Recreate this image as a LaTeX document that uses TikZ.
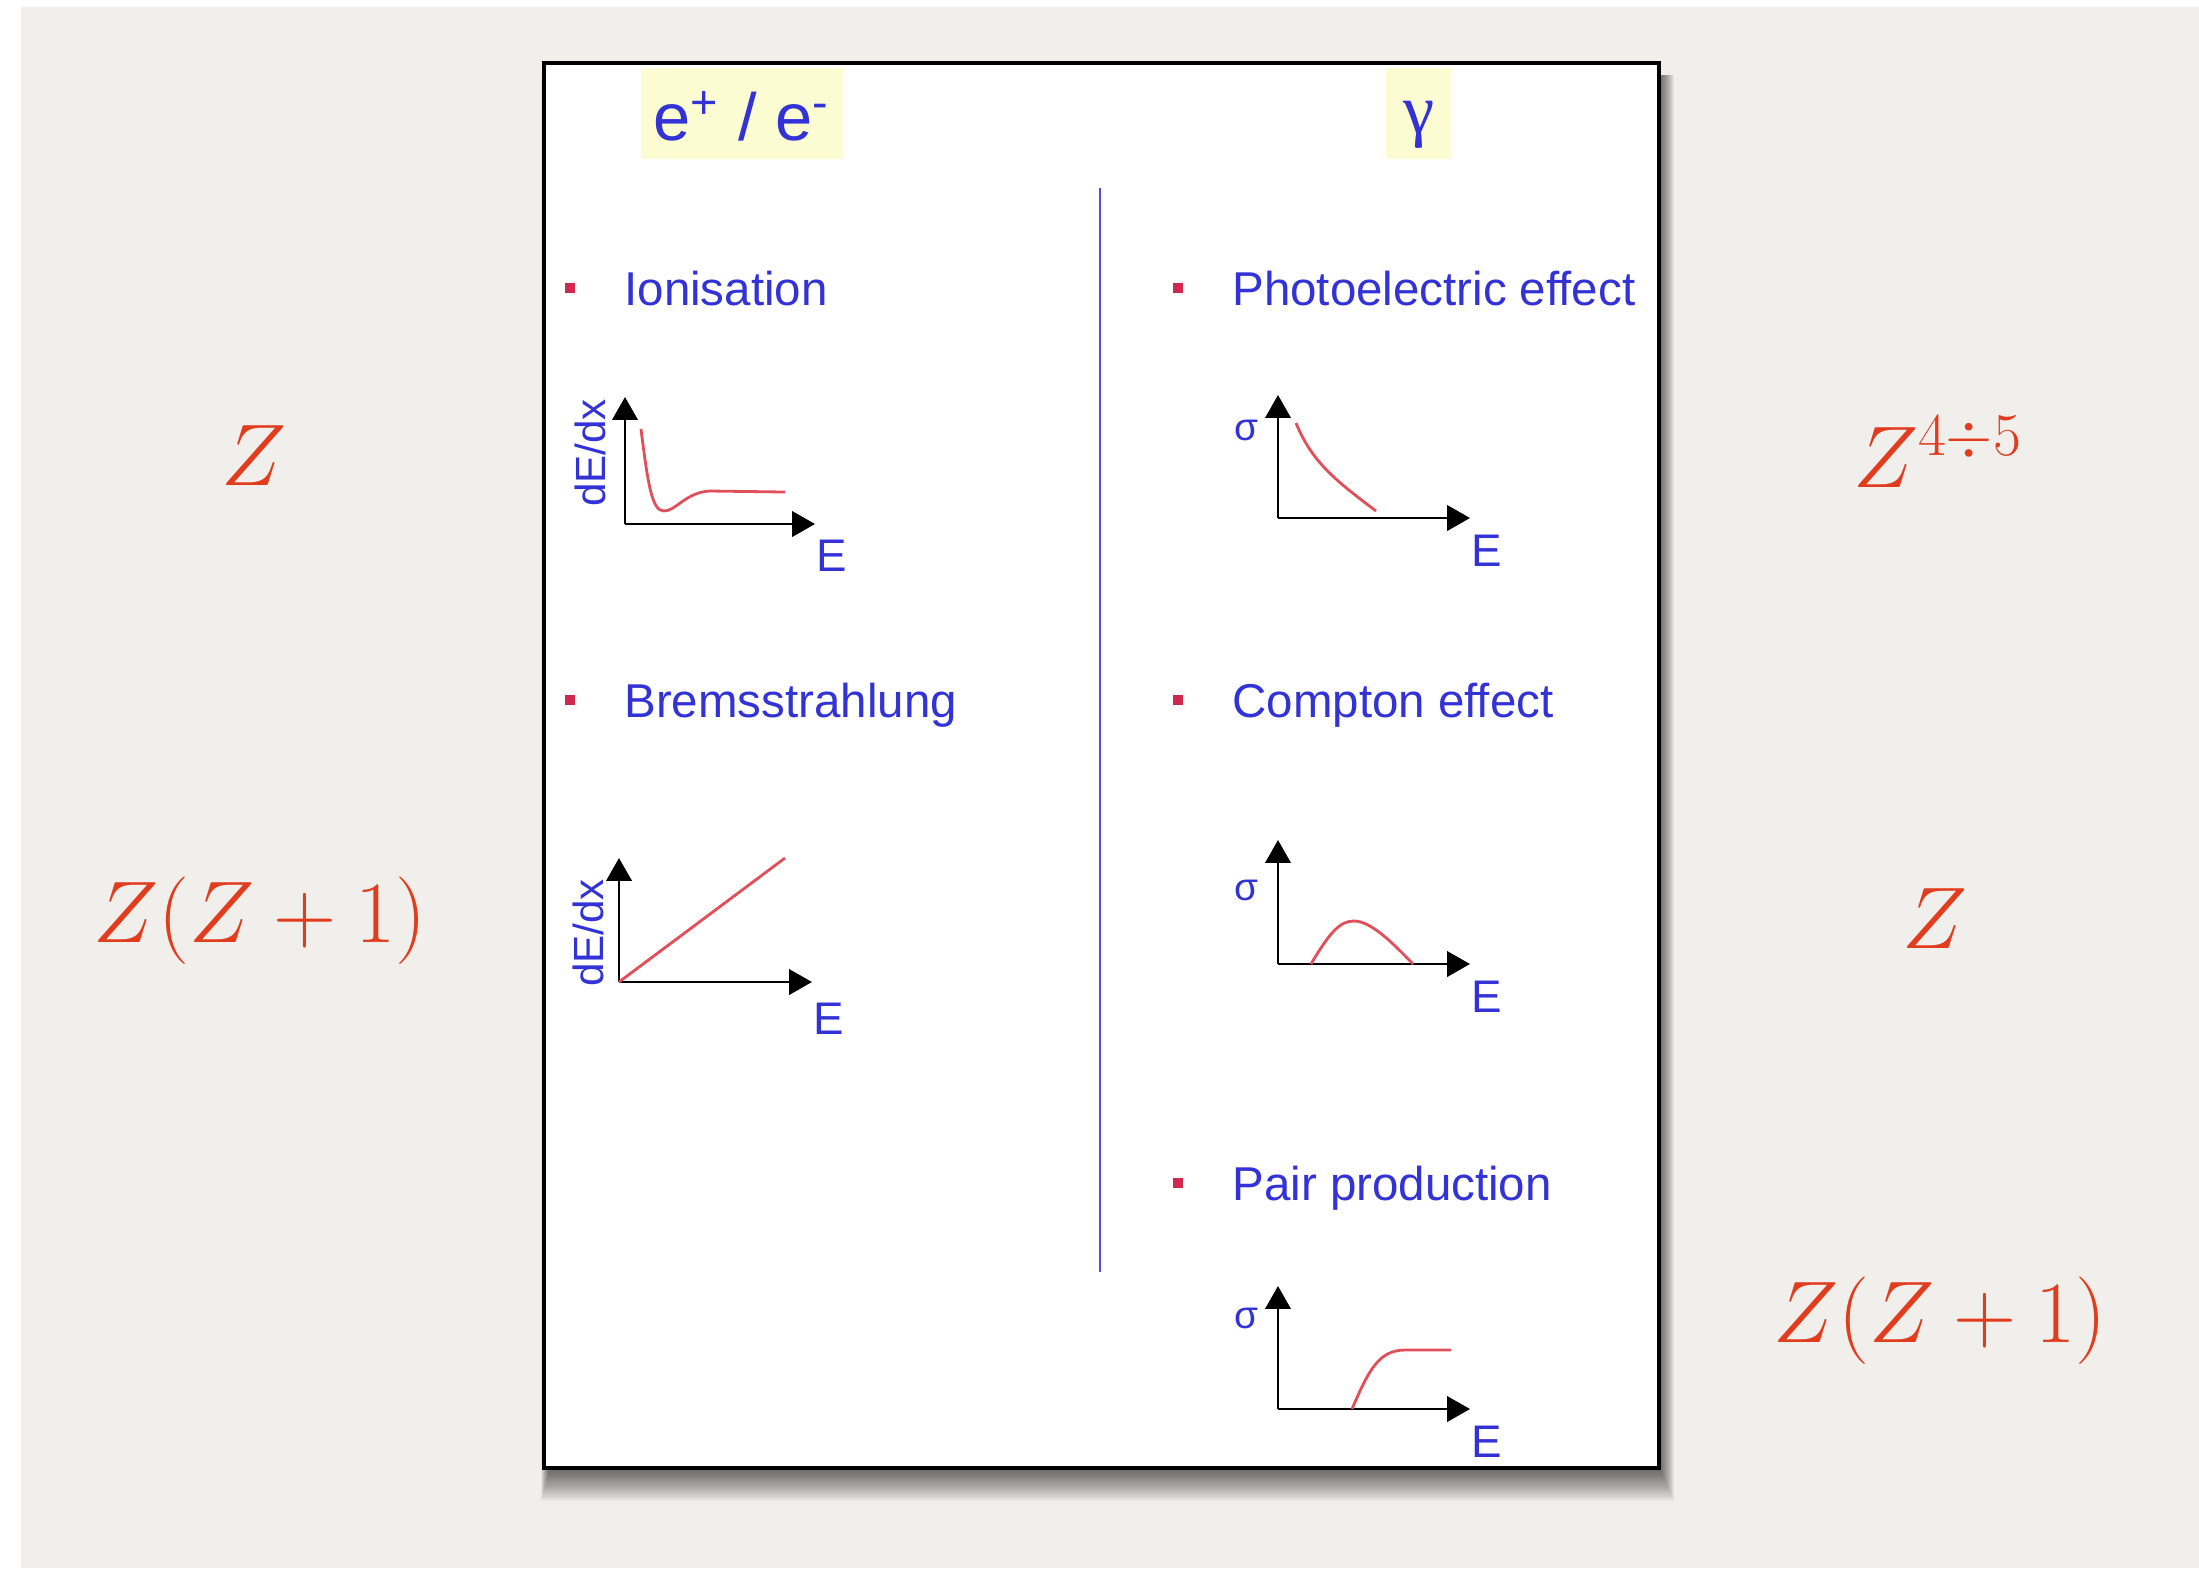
\documentclass[tikz,border=0pt]{standalone}
\usepackage{fontspec}
\newfontfamily\arialfont{Liberation Sans}
\newfontfamily\timesfont{Liberation Serif}
\usetikzlibrary{arrows.meta,positioning}
\definecolor{slidegrey}{RGB}{240,239,235}
\definecolor{headyellow}{RGB}{252,252,210}
\definecolor{textblue}{RGB}{50,50,215}
\definecolor{bulletred}{RGB}{210,40,80}
\definecolor{curvered}{RGB}{225,80,90}
\definecolor{zred}{RGB}{226,60,30}
\definecolor{divblue}{RGB}{80,80,220}
\tikzset{
  procname/.style={
    font=\arialfont\fontsize{13.5}{16}\selectfont, text=textblue,
    inner sep=0pt, text height=9.7pt, text depth=0pt
  },
  procbullet/.style={rectangle, fill=bulletred, minimum size=0.1cm, inner sep=0pt},
  axisarrow/.style={-{Triangle[width=7.2pt,length=6.5pt]}, line width=0.75pt, draw=black},
  ratecurve/.style={draw=curvered, line width=0.8pt},
  axislabel/.style={font=\arialfont\fontsize{13}{15}\selectfont, text=textblue, inner sep=0pt},
  ylabel/.style={axislabel, font=\arialfont\fontsize{12}{14}\selectfont},
  siglabel/.style={axislabel, font=\arialfont\fontsize{11}{13}\selectfont},
  headlabel/.style={font=\arialfont\fontsize{19}{22}\selectfont, text=textblue, inner sep=0pt},
  zlabel/.style={font=\fontsize{24}{28}\selectfont, text=zred, inner sep=0pt},
  divline/.style={draw=divblue, line width=0.6pt},
}

\begin{document}
\begin{tikzpicture}[x=0.01cm, y=-0.01cm, node distance=0.48cm]
  \useasboundingbox (0,0) rectangle (2199,1568);
  % slide background
  \fill[white] (0,0) rectangle (2199,1568);
  \fill[slidegrey] (21,7) rectangle (2199,1568);
  % soft shadow and frame
  \foreach \k in {1,...,30}
    \fill[black, opacity=0.022] (550-0.3*\k,75) rectangle (1659+0.5*\k,1468+1.1*\k);
  \draw[fill=white, line width=0.9pt] (544,63) rectangle (1659,1468);
  % column headers
  \fill[headyellow] (641,68) rectangle (843,159);
  \fill[headyellow] (1386,68) rectangle (1451,159);
  \node (hel) [headlabel] at (742,116) {e\textsuperscript{+} / e\textsuperscript{-}};
  \node (hgam) [headlabel, font=\timesfont\fontsize{20}{24}\selectfont] at (1419,125) {γ};
  % divider
  \coordinate (dtop) at (1100,188);
  \coordinate (dbot) at (1100,1272);
  \draw[divline] (dtop) -- (dbot);

  % e+/e- processes
  \node (bion) [procbullet] at (570,288) {};
  \node (tion) [procname, right=of bion] {Ionisation};
  \node (bbrem) [procbullet] at (570,700) {};
  \node (tbrem) [procname, right=of bbrem] {Bremsstrahlung};
  % gamma processes
  \node (bphot) [procbullet] at (1178,288) {};
  \node (tphot) [procname, right=of bphot] {Photoelectric effect};
  \node (bcomp) [procbullet] at (1178,700) {};
  \node (tcomp) [procname, right=of bcomp] {Compton effect};
  \node (bpair) [procbullet] at (1178,1183) {};
  \node (tpair) [procname, right=of bpair] {Pair production};

  % ionisation plot
  \coordinate (oion) at (625,524);
  \coordinate (yion) at (625,397);
  \coordinate (xion) at (815,524);
  \draw[axisarrow] (oion) -- (yion);
  \draw[axisarrow] (oion) -- (xion);
  \node (lyion) [ylabel, rotate=90] at (590,453) {dE/dx};
  \node (lxion) [axislabel] at (832,556) {E};
  \draw[ratecurve] (641,429) .. controls (648,485) and (652,511) .. (664,511)
    .. controls (676,511) and (686,492) .. (710,491) -- (785,492);

  % bremsstrahlung plot
  \coordinate (obrem) at (619,982);
  \coordinate (ybrem) at (619,858);
  \coordinate (xbrem) at (812,982);
  \draw[axisarrow] (obrem) -- (ybrem);
  \draw[axisarrow] (obrem) -- (xbrem);
  \node (lybrem) [ylabel, rotate=90] at (588,933) {dE/dx};
  \node (lxbrem) [axislabel] at (829,1019) {E};
  \draw[ratecurve] (obrem) -- (785,858);

  % photoelectric plot
  \coordinate (ophot) at (1278,518);
  \coordinate (yphot) at (1278,395);
  \coordinate (xphot) at (1470,518);
  \draw[axisarrow] (ophot) -- (yphot);
  \draw[axisarrow] (ophot) -- (xphot);
  \node (lyphot) [siglabel] at (1246,430) {σ};
  \node (lxphot) [axislabel] at (1487,551) {E};
  \draw[ratecurve] (1296,423) .. controls (1312,462) and (1335,480) .. (1376,511);

  % compton plot
  \coordinate (ocomp) at (1278,964);
  \coordinate (ycomp) at (1278,840);
  \coordinate (xcomp) at (1470,964);
  \draw[axisarrow] (ocomp) -- (ycomp);
  \draw[axisarrow] (ocomp) -- (xcomp);
  \node (lycomp) [siglabel] at (1246,890) {σ};
  \node (lxcomp) [axislabel] at (1487,997) {E};
  \draw[ratecurve] (1311,964) .. controls (1330,932) and (1340,921) .. (1354,921)
    .. controls (1370,921) and (1390,940) .. (1413,964);

  % pair production plot
  \coordinate (opair) at (1278,1409);
  \coordinate (ypair) at (1278,1286);
  \coordinate (xpair) at (1470,1409);
  \draw[axisarrow] (opair) -- (ypair);
  \draw[axisarrow] (opair) -- (xpair);
  \node (lypair) [siglabel] at (1246,1318) {σ};
  \node (lxpair) [axislabel] at (1487,1442) {E};
  \draw[ratecurve] (1352,1409) .. controls (1368,1372) and (1378,1350) .. (1405,1350) -- (1451,1350);

  % Z dependences
  \node (zion) [zlabel] at (254,456) {$Z$};
  \node (zbrem) [zlabel] at (260,921) {$Z(Z+1)$};
  \node (zphot) [zlabel] at (1938,452) {$Z^{4\div5}$};
  \node (zcomp) [zlabel] at (1935,919) {$Z$};
  \node (zpair) [zlabel] at (1940,1321) {$Z(Z+1)$};
\end{tikzpicture}
\end{document}
